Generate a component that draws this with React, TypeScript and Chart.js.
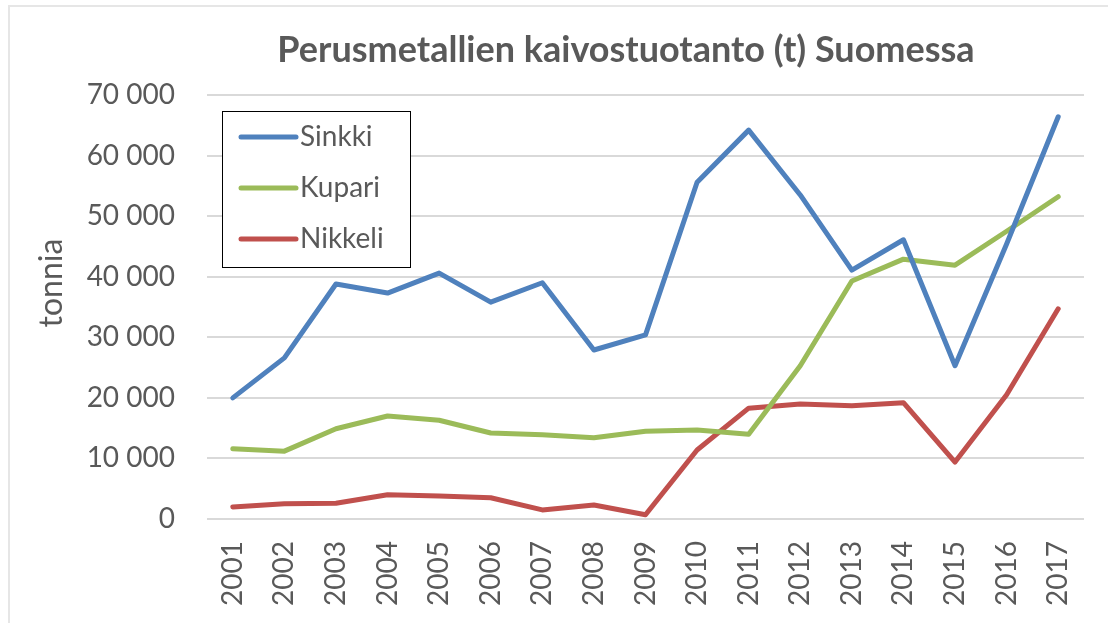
import React, { useEffect, useRef } from "react";
import { Chart, registerables } from "chart.js";

Chart.register(...registerables);

const chartTitle = "Perusmetallien kaivostuotanto (t) Suomessa";
const yAxisTitle = "tonnia";
const years = ["2001", "2002", "2003", "2004", "2005", "2006", "2007", "2008", "2009", "2010", "2011", "2012", "2013", "2014", "2015", "2016", "2017"];
const sinkki = [20000, 26600, 38800, 37300, 40600, 35800, 39000, 27900, 30400, 55600, 64200, 53500, 41100, 46100, 25300, 45400, 66400];
const kupari = [11600, 11200, 14900, 17000, 16300, 14200, 13900, 13400, 14500, 14700, 14000, 25300, 39300, 42900, 41900, 47500, 53200];
const nikkeli = [2000, 2500, 2600, 4000, 3800, 3500, 1500, 2300, 700, 11400, 18300, 19000, 18700, 19200, 9400, 20500, 34700];
const seriesNames = ["Sinkki", "Kupari", "Nikkeli"];
const seriesColors = ["#4F81BD", "#9BBB59", "#C0504D"];
const yMin = 0;
const yMax = 70000;
const yStep = 10000;

const TEXT = "#595959";
const FONT = "Lato, 'Open Sans', sans-serif";

const fmt = (v: number) => String(Math.round(v)).replace(/\B(?=(\d{3})+(?!\d))/g, " ");

const framePlugin = {
  id: "frame",
  beforeDraw(chart: any) {
    const ctx = chart.ctx;
    ctx.save();
    ctx.fillStyle = "#ffffff";
    ctx.fillRect(0, 0, chart.width, chart.height);
    ctx.strokeStyle = "#e6e6e6";
    ctx.lineWidth = 2;
    ctx.beginPath();
    ctx.moveTo(9, chart.height);
    ctx.lineTo(9, 6);
    ctx.lineTo(chart.width, 6);
    ctx.stroke();
    ctx.restore();
  },
};

const titlePlugin = {
  id: "customTitle",
  afterDraw(chart: any) {
    const ctx = chart.ctx;
    ctx.save();
    ctx.font = `bold 36px ${FONT}`;
    ctx.fillStyle = TEXT;
    ctx.textAlign = "center";
    ctx.textBaseline = "middle";
    ctx.fillText(chartTitle, 626, 50);
    // y-axis title
    ctx.font = `32px ${FONT}`;
    ctx.translate(52, 283);
    ctx.rotate(-Math.PI / 2);
    ctx.fillText(yAxisTitle, 0, 0);
    ctx.restore();
  },
};

const legendPlugin = {
  id: "customLegend",
  afterDatasetsDraw(chart: any) {
    const ctx = chart.ctx;
    const area = chart.chartArea;
    const x0 = area.left + 15;
    const y0 = area.top + 16;
    const w = 188;
    const h = 156;
    ctx.save();
    ctx.fillStyle = "#ffffff";
    ctx.fillRect(x0, y0, w, h);
    ctx.strokeStyle = "#000000";
    ctx.lineWidth = 1;
    ctx.strokeRect(x0 + 0.5, y0 + 0.5, w, h);
    ctx.font = `28px ${FONT}`;
    ctx.textBaseline = "middle";
    ctx.textAlign = "left";
    chart.data.datasets.forEach((ds: any, i: number) => {
      const cy = y0 + 26 + i * 51;
      ctx.strokeStyle = ds.borderColor;
      ctx.lineWidth = 5;
      ctx.lineCap = "round";
      ctx.beginPath();
      ctx.moveTo(x0 + 19, cy);
      ctx.lineTo(x0 + 74, cy);
      ctx.stroke();
      ctx.fillStyle = TEXT;
      ctx.fillText(ds.label, x0 + 78, cy);
    });
    ctx.restore();
  },
};

export default function App() {
  const canvasRef = useRef<HTMLCanvasElement | null>(null);

  useEffect(() => {
    const canvas = canvasRef.current;
    if (!canvas) return;
    const seriesData = [sinkki, kupari, nikkeli];
    const chart = new Chart(canvas, {
      type: "line",
      data: {
        labels: years,
        datasets: seriesNames.map((name, i) => ({
          label: name,
          data: seriesData[i],
          borderColor: seriesColors[i],
          backgroundColor: seriesColors[i],
          borderWidth: 5,
          pointRadius: 0,
          tension: 0,
          borderCapStyle: "round" as const,
          borderJoinStyle: "round" as const,
        })),
      },
      options: {
        animation: false,
        responsive: true,
        maintainAspectRatio: false,
        layout: { padding: { top: 95, right: 24, bottom: 0, left: 0 } },
        plugins: {
          legend: { display: false },
          title: { display: false },
          tooltip: { enabled: false },
        },
        scales: {
          x: {
            type: "category",
            offset: true,
            grid: { display: false },
            border: { display: false },
            ticks: {
              color: TEXT,
              font: { family: FONT, size: 28 },
              minRotation: 90,
              maxRotation: 90,
              padding: 14,
              autoSkip: false,
            },
            afterFit(scale: any) {
              scale.height = 104;
            },
          },
          y: {
            min: yMin,
            max: yMax,
            grid: { color: "#d9d9d9", lineWidth: 2, drawTicks: false },
            border: { display: false },
            ticks: {
              stepSize: yStep,
              color: TEXT,
              font: { family: FONT, size: 28 },
              padding: 32,
              callback: (v: any) => fmt(Number(v)),
            },
            afterFit(scale: any) {
              scale.width = 207;
            },
          },
        },
      },
      plugins: [framePlugin, titlePlugin, legendPlugin],
    });
    return () => chart.destroy();
  }, []);

  return (
    <div style={{ position: "fixed", left: 0, top: 0, width: 1108, height: 623, background: "#fff" }}>
      <canvas ref={canvasRef} />
    </div>
  );
}
